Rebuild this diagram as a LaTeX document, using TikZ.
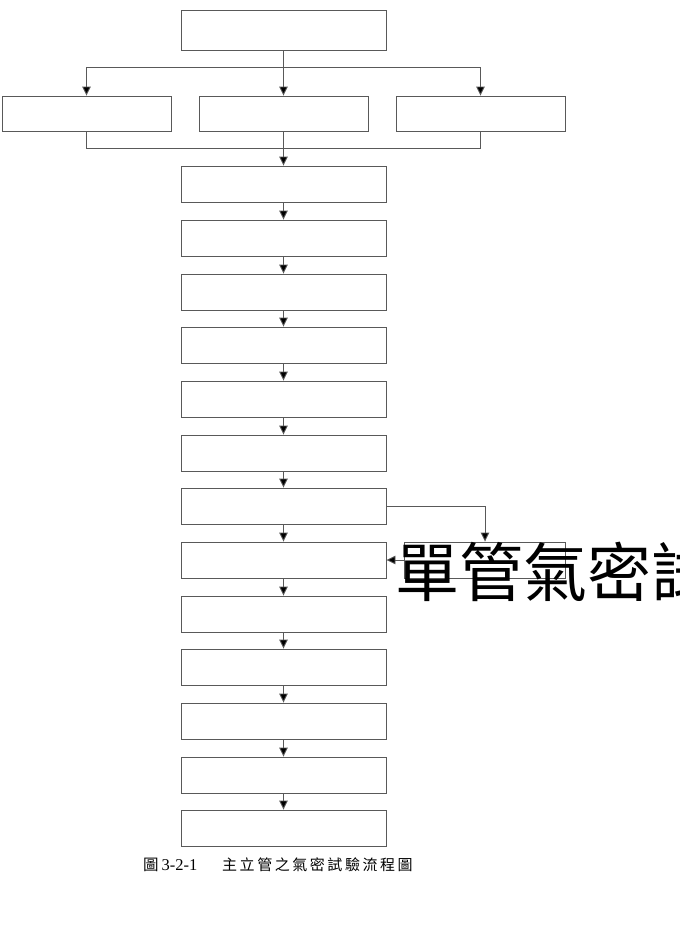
\documentclass[tikz,border=0pt]{standalone}
\usepackage{fontspec}
\setmainfont{Liberation Serif}
\newfontfamily\cjk{Noto Sans CJK TC}
\newfontfamily\cjkcap[LetterSpace=17]{Noto Sans CJK TC}
\usetikzlibrary{arrows.meta}
\tikzset{
  box/.style={draw=black!65, line width=0.9pt, fill=white, inner sep=0pt, minimum width=205pt, minimum height=36pt},
  rowbox/.style={box, minimum width=169pt, minimum height=35pt},
  link/.style={draw=black!65, line width=0.9pt},
  arr/.style={link, -{Triangle[length=9pt,width=8.5pt,fill=black]}}
}
\begin{document}
\begin{tikzpicture}[x=1pt,y=-1pt]
\clip (0,0) rectangle (680,929);
\fill[white] (0,0) rectangle (680,929);
% top
\node[box, minimum height=40pt] (top) at (283.5,30) {};
\node[rowbox] (r1) at (86.5,113.5) {};
\node[rowbox] (r2) at (283.5,113.5) {};
\node[rowbox] (r3) at (480.5,113.5) {};
\coordinate (s1) at (86.5,67);
\coordinate (s2) at (283.5,67);
\coordinate (s3) at (480.5,67);
\coordinate (m1) at (86.5,148);
\coordinate (m3) at (480.5,148);
\draw[link] (top) -- (s2);
\draw[link] (s1) -- (s3);
\draw[arr] (s1) -- (r1);
\draw[arr] (s2) -- (r2);
\draw[arr] (s3) -- (r3);
\draw[link] (r1) -- (m1) -- (m3) -- (r3);
% column
\foreach \i/\y in {1/184,2/238,3/292,4/345,5/399,6/453,7/506,8/560,9/614,10/667,11/721,12/775,13/828}{
  \node[box] (c\i) at (283.5,\y) {};
}
\draw[arr] (r2) -- (c1);
\foreach \i [evaluate=\i as \j using int(\i+1)] in {1,...,12}{
  \draw[arr] (c\i) -- (c\j);
}
% side
\node[box, minimum width=161pt] (side) at (485,560) {};
\draw[arr] (c7.east) -| (side.north);
\draw[arr] (side) -- (c8);
\node[anchor=west, inner sep=0pt, font=\cjk\fontsize{64}{64}\selectfont] (big) at (395,572) {單管氣密試驗};
% caption
\node[anchor=west, inner sep=0pt, font=\fontsize{16.5}{16.5}\selectfont] (cap1) at (143,865) {{\cjk\fontsize{15.5}{15.5}\selectfont 圖}\hspace{3pt}3-2-1};
\node[anchor=west, inner sep=0pt, font=\cjkcap\fontsize{15}{15}\selectfont] (cap2) at (222,865) {主立管之氣密試驗流程圖};
\end{tikzpicture}
\end{document}
